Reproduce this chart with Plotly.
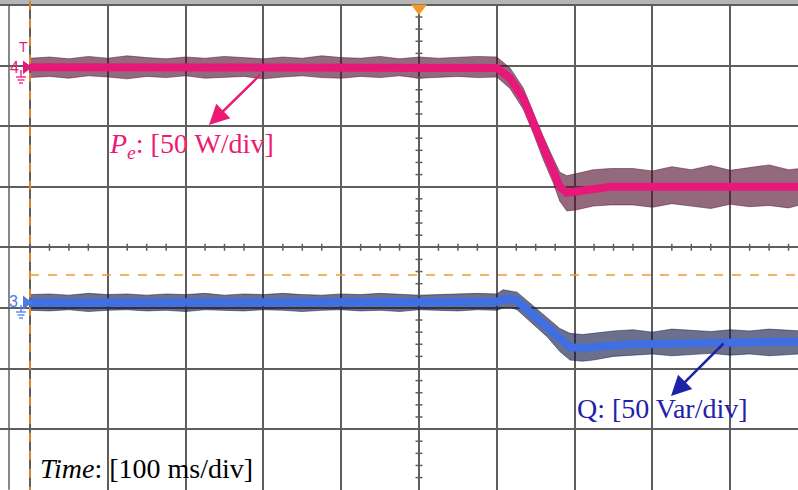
import plotly.graph_objects as go

# ---------------- data (in oscilloscope divisions) ----------------
pe_t = [0.0,0.25,0.5,0.75,1.0,1.25,1.5,1.75,2.0,2.25,2.5,2.75,3.0,3.25,3.5,3.75,4.0,4.25,4.5,4.75,5.0,5.25,5.5,5.75,6.0,
        6.17,6.34,6.47,6.59,6.72,6.81,6.90,7.03,7.24,7.46,
        7.75,8.0,8.25,8.5,8.75,9.0,9.25,9.5,9.75,9.9]
pe_mid = [2.97]*24 + [2.96,
          2.79,2.46,2.05,1.66,1.28,1.0,0.9,0.92,0.98,1.0,
          1.0,1.0,1.0,1.0,1.0,1.0,1.0,1.0,1.0,1.0]
pe_hi = [3.12,3.14,3.11,3.15,3.12,3.16,3.13,3.11,3.14,3.12,3.15,3.13,3.11,3.14,3.12,3.16,3.13,3.12,3.15,3.11,3.14,3.12,3.13,3.15,3.14,
         2.96,2.63,2.22,1.85,1.48,1.24,1.18,1.22,1.28,1.30,
         1.30,1.26,1.33,1.28,1.35,1.27,1.31,1.36,1.28,1.30]
pe_lo = [2.80,2.82,2.79,2.83,2.81,2.78,2.82,2.80,2.83,2.79,2.81,2.82,2.78,2.81,2.83,2.80,2.79,2.82,2.80,2.83,2.79,2.81,2.82,2.80,2.81,
         2.62,2.28,1.88,1.47,1.08,0.76,0.60,0.62,0.68,0.70,
         0.70,0.66,0.72,0.68,0.64,0.71,0.67,0.69,0.65,0.70]

q_t = [0.0,0.25,0.5,0.75,1.0,1.25,1.5,1.75,2.0,2.25,2.5,2.75,3.0,3.25,3.5,3.75,4.0,4.25,4.5,4.75,5.0,5.25,5.5,5.75,6.0,
       6.08,6.17,6.26,6.39,6.52,6.65,6.81,6.94,7.1,7.24,
       7.5,7.75,8.0,8.25,8.5,8.75,9.0,9.25,9.5,9.75,9.9]
q_mid = [-0.91]*24 + [-0.90,
         -0.86,-0.85,-0.88,-1.03,-1.17,-1.32,-1.53,-1.65,-1.66,-1.64,
         -1.62,-1.60,-1.59,-1.58,-1.58,-1.57,-1.57,-1.56,-1.56,-1.56,-1.56]
q_hi = [-0.78,-0.77,-0.79,-0.76,-0.78,-0.77,-0.79,-0.77,-0.78,-0.76,-0.79,-0.77,-0.78,-0.76,-0.78,-0.79,-0.77,-0.78,-0.76,-0.77,-0.79,-0.78,-0.77,-0.76,-0.77,
        -0.70,-0.72,-0.74,-0.88,-1.02,-1.16,-1.34,-1.42,-1.44,-1.42,
        -1.38,-1.36,-1.40,-1.35,-1.37,-1.39,-1.36,-1.38,-1.35,-1.37,-1.38]
q_lo = [-1.04,-1.05,-1.03,-1.06,-1.04,-1.03,-1.05,-1.04,-1.06,-1.03,-1.04,-1.05,-1.03,-1.04,-1.06,-1.04,-1.03,-1.05,-1.04,-1.06,-1.03,-1.04,-1.05,-1.03,-1.04,
        -1.00,-0.99,-1.03,-1.18,-1.33,-1.48,-1.72,-1.86,-1.88,-1.86,
        -1.80,-1.78,-1.76,-1.79,-1.77,-1.75,-1.78,-1.76,-1.79,-1.77,-1.76]

trigger_level = -0.457

pe_label = "<i>P</i><sub><i>e</i></sub>: [50 W/div]"
q_label = "Q: [50 Var/div]"
time_label = "<i>Time</i>: [100 ms/div]"

# ---------------- layout helpers (pixel -> division) ----------------
W, H = 798, 490
X0, DXP = 30.0, 77.8
Y0, DYP = 247.3, 60.6
def px(x): return (x - X0) / DXP
def py(y): return (Y0 - y) / DYP

PINK = "#e8177a"
PINK_TXT = "#ec1a72"
PE_DARK = "rgba(80,14,44,0.62)"
BLUE = "#3f6fe3"
Q_DARK = "rgba(16,24,70,0.62)"
BLUE_TXT = "#1e22a8"
CH3 = "#4a7be8"
ORANGE = "#f2992e"
GRID = "#5e5e5e"
SERIF = "Liberation Serif, Times New Roman, serif"
SANS = "Liberation Sans, Arial, sans-serif"

fig = go.Figure()

def band(t, hi, lo, color):
    return go.Scatter(x=list(t) + list(t)[::-1], y=list(hi) + list(lo)[::-1],
                      fill="toself", fillcolor=color, line=dict(width=0.8, color=color),
                      mode="lines", hoverinfo="skip", showlegend=False)

fig.add_trace(band(pe_t, pe_hi, pe_lo, PE_DARK))
fig.add_trace(go.Scatter(x=pe_t, y=pe_mid, mode="lines", line=dict(color=PINK, width=8),
                         showlegend=False, hoverinfo="skip"))
fig.add_trace(band(q_t, q_hi, q_lo, Q_DARK))
fig.add_trace(go.Scatter(x=q_t, y=q_mid, mode="lines", line=dict(color=BLUE, width=8),
                         showlegend=False, hoverinfo="skip"))

# channel markers (triangles) and trigger-position marker
fig.add_trace(go.Scatter(x=[px(26)], y=[pe_mid[0]], mode="markers",
                         marker=dict(symbol="triangle-right", size=12, color=PINK),
                         showlegend=False, hoverinfo="skip", cliponaxis=False))
fig.add_trace(go.Scatter(x=[px(26)], y=[q_mid[0]], mode="markers",
                         marker=dict(symbol="triangle-right", size=12, color=CH3),
                         showlegend=False, hoverinfo="skip", cliponaxis=False))
fig.add_trace(go.Scatter(x=[5.0], y=[py(8)], mode="markers",
                         marker=dict(symbol="triangle-down", size=14, color=ORANGE),
                         showlegend=False, hoverinfo="skip", cliponaxis=False))

shapes = []
# top light band
shapes.append(dict(type="rect", xref="paper", yref="paper", x0=0, x1=1, y0=1 - 4 / H, y1=1,
                   fillcolor="#b5b5b5", line=dict(width=0), layer="above"))
# left border
shapes.append(dict(type="line", x0=px(9), x1=px(9), y0=-4, y1=4, line=dict(color=GRID, width=1.5)))
# minor ticks on centre lines
k = 1
while k * 0.25 < 9.9:
    xv = k * 0.25
    if abs(xv - round(xv)) > 1e-6:
        shapes.append(dict(type="line", x0=xv, x1=xv, y0=-3.5 / DYP, y1=3.5 / DYP,
                           line=dict(color=GRID, width=1.5)))
    k += 1
for j in range(-20, 21):
    yv = j * 0.2
    if j % 5 != 0:
        shapes.append(dict(type="line", x0=5 - 3.5 / DXP, x1=5 + 3.5 / DXP, y0=yv, y1=yv,
                           line=dict(color=GRID, width=1.5)))
# trigger position (vertical) and trigger level (horizontal)
shapes.append(dict(type="line", x0=0, x1=0, y0=-4.1, y1=4.1,
                   line=dict(color="#d9842c", width=2, dash="dash")))
shapes.append(dict(type="line", x0=0, x1=px(798), y0=trigger_level, y1=trigger_level,
                   line=dict(color=ORANGE, width=1.5, dash="dash")))
# ground symbols
for yc, col in [(67, PINK), (302, CH3)]:
    shapes.append(dict(type="line", x0=px(21), x1=px(21), y0=py(yc + 3), y1=py(yc + 10),
                       line=dict(color=col, width=1.3)))
    for off, half in [(10, 5), (13, 3.5), (16, 2)]:
        shapes.append(dict(type="line", x0=px(21 - half), x1=px(21 + half),
                           y0=py(yc + off), y1=py(yc + off), line=dict(color=col, width=1.3)))

annotations = [
    dict(x=px(107), y=py(145), xref="x", yref="y", text=pe_label, showarrow=False,
         xanchor="left", yanchor="middle", font=dict(family=SERIF, size=28, color=PINK_TXT)),
    dict(x=px(209), y=py(125), xref="x", yref="y", text="", showarrow=True,
         ax=53, ay=-52, arrowhead=2, arrowsize=1.6, arrowwidth=2.5, arrowcolor=PINK_TXT),
    dict(x=px(575), y=py(408), xref="x", yref="y", text=q_label, showarrow=False,
         xanchor="left", yanchor="middle", font=dict(family=SERIF, size=28, color=BLUE_TXT)),
    dict(x=px(671), y=py(396), xref="x", yref="y", text="", showarrow=True,
         ax=54, ay=-54, arrowhead=2, arrowsize=1.6, arrowwidth=2.5, arrowcolor=BLUE_TXT),
    dict(x=px(38), y=py(468), xref="x", yref="y", text=time_label, showarrow=False,
         xanchor="left", yanchor="middle", font=dict(family=SERIF, size=28, color="black")),
    dict(x=px(14), y=py(67), xref="x", yref="y", text="4", showarrow=False,
         font=dict(family=SANS, size=16, color=PINK)),
    dict(x=px(23), y=py(47), xref="x", yref="y", text="T", showarrow=False,
         font=dict(family=SANS, size=14, color=PINK)),
    dict(x=px(13), y=py(301), xref="x", yref="y", text="3", showarrow=False,
         font=dict(family=SANS, size=16, color=CH3)),
]

fig.update_layout(
    width=W, height=H, margin=dict(l=0, r=0, t=0, b=0),
    paper_bgcolor="white", plot_bgcolor="white",
    xaxis=dict(range=[px(0), px(W)], dtick=1, tick0=0, showgrid=True, gridcolor=GRID, gridwidth=1.5,
               zeroline=False, showticklabels=False, ticks="", fixedrange=True),
    yaxis=dict(range=[py(H), py(0)], dtick=1, tick0=0, showgrid=True, gridcolor=GRID, gridwidth=1.5,
               zeroline=False, showticklabels=False, ticks="", fixedrange=True),
    shapes=shapes, annotations=annotations, showlegend=False,
)

fig.write_html("out.html")
